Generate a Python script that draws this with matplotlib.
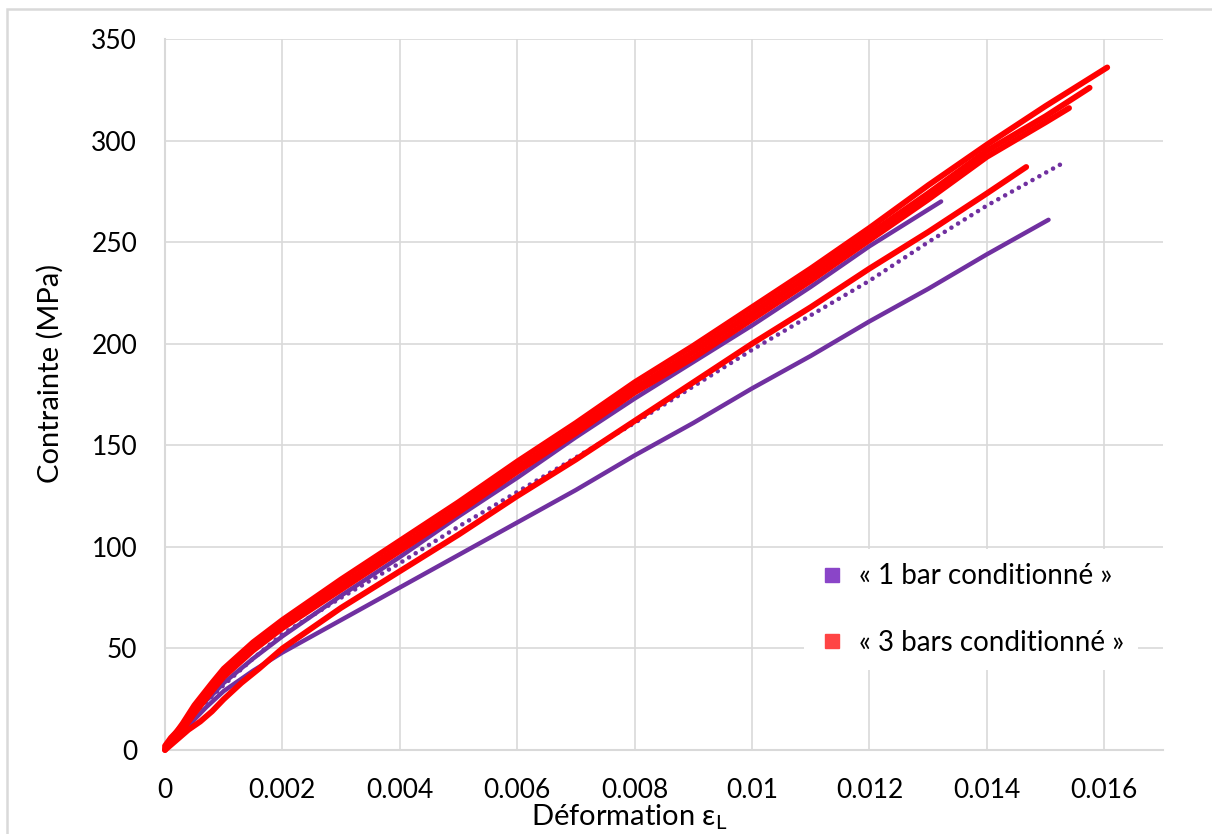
import matplotlib
matplotlib.use("Agg")
import matplotlib.pyplot as plt
from matplotlib.lines import Line2D
from matplotlib.patches import Rectangle
from matplotlib.ticker import FuncFormatter

plt.rcParams['font.family'] = ['Lato', 'DejaVu Sans']
plt.rcParams['mathtext.fontset'] = 'custom'
plt.rcParams['mathtext.rm'] = 'Lato'

# --- "1 bar conditionné" (violet) ---
eps_p1 = [0, 0.0001, 0.0003, 0.0005, 0.0008, 0.001, 0.0015, 0.002, 0.003, 0.004, 0.005,
          0.006, 0.007, 0.008, 0.009, 0.010, 0.011, 0.012, 0.01322]
sig_p1 = [0, 5, 12, 19, 27, 33, 45, 56, 76, 95, 115, 134, 154, 173, 191, 209, 228, 248, 270]

eps_p2 = [0, 0.0002, 0.0005, 0.001, 0.0015, 0.002, 0.003, 0.004, 0.005, 0.006, 0.007,
          0.008, 0.009, 0.010, 0.011, 0.012, 0.013, 0.014, 0.0153]
sig_p2 = [0, 7, 18, 32, 45, 57, 75, 92, 110, 127, 144, 161, 179, 197, 214, 231, 250, 268, 289]

eps_p3 = [0, 0.0002, 0.0004, 0.0007, 0.001, 0.0015, 0.002, 0.003, 0.004, 0.005, 0.006,
          0.007, 0.008, 0.009, 0.010, 0.011, 0.012, 0.013, 0.014, 0.01505]
sig_p3 = [0, 6, 12, 21, 29, 39, 48, 64, 80, 96, 112, 128, 145, 161, 178, 194, 211, 227, 244, 261]

# --- "3 bars conditionné" (rouge) ---
eps_r1 = [0, 0.0001, 0.0003, 0.0005, 0.0008, 0.001, 0.0015, 0.002, 0.003, 0.004, 0.005,
          0.006, 0.007, 0.008, 0.009, 0.010, 0.011, 0.012, 0.013, 0.014, 0.015, 0.01605]
sig_r1 = [0, 5, 13, 22, 33, 40, 53, 64, 84, 103, 122, 142, 161, 181, 199, 218, 237, 257,
          278, 298, 317, 336]

eps_r2 = [0, 0.0001, 0.0003, 0.0005, 0.0008, 0.001, 0.0015, 0.002, 0.003, 0.004, 0.005,
          0.006, 0.007, 0.008, 0.009, 0.010, 0.011, 0.012, 0.013, 0.014, 0.015, 0.01575]
sig_r2 = [2, 6, 12, 20, 31, 38, 51, 62, 81, 100, 119, 139, 158, 178, 196, 215, 234, 254,
          274, 295, 312, 326]

eps_r3 = [0, 0.0001, 0.0003, 0.0005, 0.0008, 0.001, 0.0015, 0.002, 0.003, 0.004, 0.005,
          0.006, 0.007, 0.008, 0.009, 0.010, 0.011, 0.012, 0.013, 0.014, 0.015, 0.0154]
sig_r3 = [1, 4, 10, 18, 29, 36, 49, 60, 79, 98, 117, 137, 156, 176, 193, 212, 231, 251,
          271, 292, 309, 316]

eps_r4 = [0, 0.0002, 0.0004, 0.0006, 0.0008, 0.001, 0.0013, 0.0016, 0.002, 0.003, 0.004,
          0.005, 0.006, 0.007, 0.008, 0.009, 0.010, 0.011, 0.012, 0.013, 0.014, 0.01467]
sig_r4 = [0, 5, 10, 14, 19, 25, 33, 40, 50, 70, 88, 106, 125, 143, 162, 181, 200, 218, 237,
          255, 274, 287]

x_ticks = [0, 0.002, 0.004, 0.006, 0.008, 0.010, 0.012, 0.014, 0.016]
y_ticks = [0, 50, 100, 150, 200, 250, 300, 350]
legend_labels = ["« 1 bar conditionné »", "« 3 bars conditionné »"]

PURPLE = '#7030A0'
RED = '#FF0000'
GRID = '#D9D9D9'

W, H = 1212, 834
fig = plt.figure(figsize=(W / 100, H / 100), dpi=100)
ax = fig.add_axes([165 / W, 1 - 750 / H, (1163 - 165) / W, (750 - 39) / H])

# courbes violettes
kw = dict(solid_capstyle='round', solid_joinstyle='round', clip_on=False)
ax.plot(eps_p1, sig_p1, color=PURPLE, lw=3.2, zorder=2, **kw)
ax.plot(eps_p3, sig_p3, color=PURPLE, lw=3.2, zorder=2, **kw)
ax.plot(eps_p2, sig_p2, color=PURPLE, lw=3.3, ls=(0, (0.01, 1.7)),
        dash_capstyle='round', zorder=2, clip_on=False)

# courbes rouges
for e, s in [(eps_r4, sig_r4), (eps_r3, sig_r3), (eps_r2, sig_r2), (eps_r1, sig_r1)]:
    ax.plot(e, s, color=RED, lw=4.2, zorder=3, **kw)

ax.set_xlim(0, 0.017)
ax.set_ylim(0, 350)
ax.set_xticks(x_ticks)
ax.set_yticks(y_ticks)
ax.xaxis.set_major_formatter(FuncFormatter(lambda v, p: f"{round(v, 4):g}"))
ax.tick_params(length=0, labelsize=19, colors='black', pad=20)

ax.grid(True, color=GRID, lw=1.2, zorder=0)
ax.set_axisbelow(True)
for side in ['top', 'right']:
    ax.spines[side].set_visible(False)
for side in ['left', 'bottom']:
    ax.spines[side].set_color(GRID)
    ax.spines[side].set_linewidth(1.5)

# titres d'axes
fig.text(50 / W, 1 - 373 / H, "Contrainte (MPa)", rotation=90, ha='center', va='center',
         fontsize=21)
fig.text(629 / W, 1 - 825 / H, "Déformation ε$_{\\mathrm{L}}$", ha='center', va='baseline',
         fontsize=21)

# légende
handles = [Line2D([], [], marker='s', ls='none', color='#8A45C8', markersize=10),
           Line2D([], [], marker='s', ls='none', color='#FF4444', markersize=10)]
ax.legend(handles, legend_labels, loc='center',
          bbox_to_anchor=((790 + 1152) / 2 / W, 1 - (547 + 672) / 2 / H),
          bbox_transform=fig.transFigure, fontsize=20, frameon=True, facecolor='white',
          edgecolor='none', framealpha=1, fancybox=False, handlelength=1.0,
          handletextpad=0.45, labelspacing=1.45, borderpad=0.5)

# bordure du graphique
fig.add_artist(Rectangle((7 / W, -0.1), 1.2, 1.1 - 9 / H, transform=fig.transFigure,
                         fill=False, edgecolor=GRID, lw=1.8))

fig.savefig("out.png", dpi=100)
